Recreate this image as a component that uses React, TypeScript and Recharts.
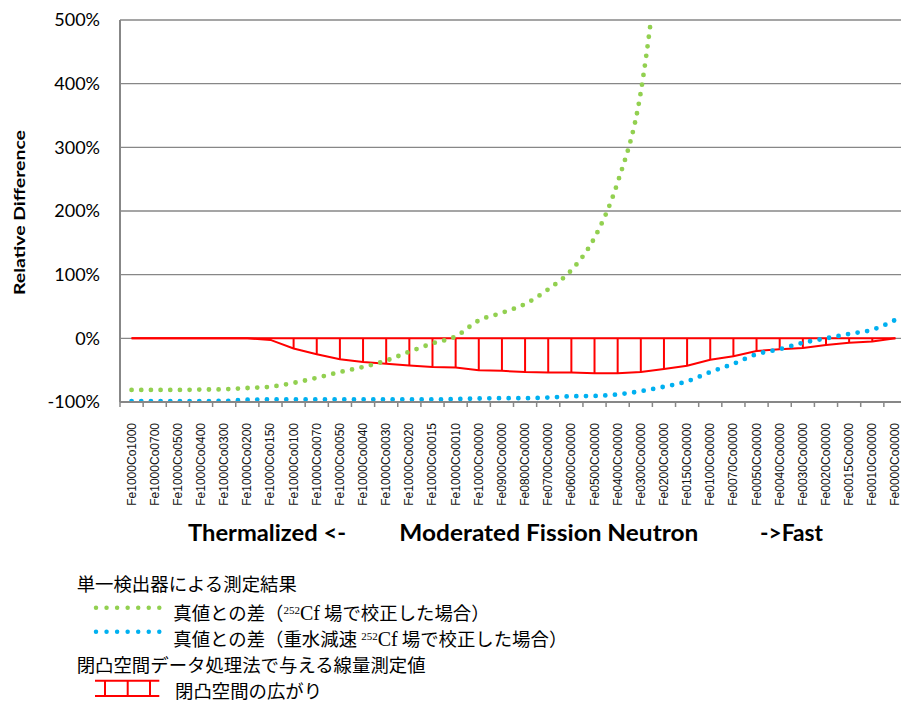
import React from 'react';
import { LineChart, Line, XAxis, YAxis, CartesianGrid, ErrorBar, Label } from 'recharts';

const categories = [
  'Fe1000Co1000', 'Fe1000Co0700', 'Fe1000Co0500', 'Fe1000Co0400', 'Fe1000Co0300',
  'Fe1000Co0200', 'Fe1000Co0150', 'Fe1000Co0100', 'Fe1000Co0070', 'Fe1000Co0050',
  'Fe1000Co0040', 'Fe1000Co0030', 'Fe1000Co0020', 'Fe1000Co0015', 'Fe1000Co0010',
  'Fe1000Co0000', 'Fe0900Co0000', 'Fe0800Co0000', 'Fe0700Co0000', 'Fe0600Co0000',
  'Fe0500Co0000', 'Fe0400Co0000', 'Fe0300Co0000', 'Fe0200Co0000', 'Fe0150Co0000',
  'Fe0100Co0000', 'Fe0070Co0000', 'Fe0050Co0000', 'Fe0040Co0000', 'Fe0030Co0000',
  'Fe0020Co0000', 'Fe0015Co0000', 'Fe0010Co0000', 'Fe0000Co0000',
];

// 真値との差（252Cf 場で校正した場合）  [%]
const greenCf = [
  -81, -81, -81, -80.5, -80, -78, -76, -70, -62, -53,
  -45, -35, -21, -8, 3, 28, 40, 54, 77, 107,
  158, 245, 387, 690, 1150, null, null, null, null, null,
  null, null, null, null,
];

// 真値との差（重水減速 252Cf 場で校正した場合）  [%]
const blueD2O = [
  -98.5, -98.5, -98.5, -98.5, -98.3, -96.5, -96, -96, -96, -96,
  -96, -96, -96, -96, -95.5, -94.5, -94, -94, -93, -91,
  -90.5, -88, -83, -76, -67.5, -53, -40, -25, -17, -7,
  0, 7, 13.5, 29,
];

// 閉凸空間の広がり (upper / lower)  [%]
const convexUpper = [
  0, 0, 0, 0, 0, 0, 0, 0, 0, 0,
  0, 0, 0, 0, 0, 0, 0, 0, 0, 0,
  0, 0, 0, 0, 0, 0, 0, 0, 0, 0,
  0, 0, 0, 0,
];
const convexLower = [
  0, 0, 0, 0, 0, 0, -2.5, -16, -25, -33,
  -37, -40, -42.5, -45, -46, -50, -51, -53, -53.5, -53.5,
  -55, -55, -53, -48, -43, -33.5, -28, -20, -17, -15,
  -10.5, -7, -5, 0,
];

const yTicks = [-100, 0, 100, 200, 300, 400, 500];

const data = categories.map((name, i) => ({
  i,
  name,
  green: greenCf[i],
  blue: blueD2O[i],
  upper: convexUpper[i],
  lower: convexLower[i],
  err: [0, convexUpper[i] - convexLower[i]],
}));

const catTicks = categories.map((_, i) => i);
const boundaryTicks = categories.map((_, i) => i - 0.5).concat([categories.length - 0.5]);
const xDomain = [-0.5, categories.length - 0.5];

const GRAY = '#878787';
const GREEN = '#92d050';
const BLUE = '#00b0f0';
const RED = '#ff0000';

const EmptyTick = () => <g />;

const CatTick = (props: any) => {
  const { x, y, payload } = props;
  return (
    <text
      transform={`translate(${x},${y + 20}) rotate(-90)`}
      textAnchor="end"
      dominantBaseline="central"
      fontFamily="'Liberation Sans', Arial, sans-serif"
      fontSize={12}
      fill="#111"
    >
      {categories[payload.value]}
    </text>
  );
};

const XTitle = (props: any) => {
  const vb = props.viewBox || { x: 120, y: 403 };
  const y = vb.y + 138;
  return (
    <g fontFamily="Lato, sans-serif" fontWeight={700} fontSize={22} fill="#000">
      <text x={vb.x + 68} y={y} textLength={158} lengthAdjust="spacingAndGlyphs">Thermalized &lt;-</text>
      <text x={vb.x + 279.3} y={y} textLength={299} lengthAdjust="spacingAndGlyphs">Moderated Fission Neutron</text>
      <text x={vb.x + 640} y={y} textLength={63} lengthAdjust="spacingAndGlyphs">-&gt;Fast</text>
    </g>
  );
};

const YTitle = (props: any) => {
  const vb = props.viewBox || { x: 0, y: 20, width: 120, height: 382 };
  const cx = vb.x + 18.5;
  const cy = vb.y + vb.height / 2 + 1.5;
  return (
    <text
      x={cx}
      y={cy}
      transform={`rotate(-90, ${cx}, ${cy})`}
      textAnchor="middle"
      dominantBaseline="central"
      fontFamily="Lato, sans-serif"
      fontWeight={700}
      fontSize={16}
      fill="#000"
      textLength={165}
      lengthAdjust="spacingAndGlyphs"
    >
      Relative Difference
    </text>
  );
};

const Sup = ({ children }: any) => (
  <span style={{ fontFamily: "'Liberation Serif', serif", fontSize: 11, position: 'relative', top: -6 }}>{children}</span>
);
const Cf = () => (
  <span style={{ fontFamily: "'Liberation Serif', serif", fontSize: 20 }}>Cf</span>
);

const lineStyle: React.CSSProperties = {
  position: 'absolute',
  lineHeight: '18.4px',
  height: 18.4,
  whiteSpace: 'nowrap',
};

const LegendBlock = () => (
  <div
    style={{
      position: 'absolute',
      left: 0,
      top: 0,
      width: 901,
      height: 702,
      pointerEvents: 'none',
      fontFamily: "'Noto Sans CJK JP', sans-serif",
      fontSize: 18.4,
      color: '#000',
    }}
  >
    <div style={{ ...lineStyle, left: 76.7, top: 574 }}>単一検出器による測定結果</div>
    <div style={{ ...lineStyle, left: 173.3, top: 603 }}>
      真値との差（<Sup>252</Sup><Cf /> 場で校正した場合）
    </div>
    <div style={{ ...lineStyle, left: 173.3, top: 628.8 }}>
      真値との差（重水減速 <Sup>252</Sup><Cf /> 場で校正した場合）
    </div>
    <div style={{ ...lineStyle, left: 76.7, top: 655.3 }}>閉凸空間データ処理法で与える線量測定値</div>
    <div style={{ ...lineStyle, left: 175, top: 680.8 }}>閉凸空間の広がり</div>
    <svg style={{ position: 'absolute', left: 0, top: 560 }} width={200} height={142}>
      <line x1={96} y1={47.7} x2={159.5} y2={47.7} stroke={GREEN} strokeWidth={4.5} strokeLinecap="round" strokeDasharray="0 10.55" />
      <line x1={96} y1={71.7} x2={159.5} y2={71.7} stroke={BLUE} strokeWidth={4.5} strokeLinecap="round" strokeDasharray="0 10.55" />
      <g stroke={RED} strokeWidth={2} fill="none">
        <line x1={95} y1={120.7} x2={159.3} y2={120.7} />
        <line x1={95} y1={136} x2={159.3} y2={136} />
        <line x1={105} y1={120.7} x2={105} y2={136} />
        <line x1={127.7} y1={120.7} x2={127.7} y2={136} />
        <line x1={150} y1={120.7} x2={150} y2={136} />
      </g>
    </svg>
  </div>
);

export default function App() {
  return (
    <div
      style={{
        position: 'fixed',
        left: 0,
        top: 0,
        width: 901,
        height: 702,
        overflow: 'hidden',
        background: '#fff',
      }}
    >
      <LineChart width={907} height={702} data={data} margin={{ top: 20, right: 0, bottom: 0, left: 0 }}>
        <CartesianGrid vertical={false} stroke={GRAY} strokeWidth={1.3} xAxisId="main" />
        <XAxis
          xAxisId="bticks"
          type="number"
          dataKey="i"
          domain={xDomain}
          allowDataOverflow
          ticks={boundaryTicks}
          interval={0}
          height={1}
          tick={EmptyTick}
          tickLine={{ stroke: GRAY, strokeWidth: 1.5 }}
          tickSize={5}
          axisLine={{ stroke: GRAY, strokeWidth: 2 }}
        />
        <XAxis
          xAxisId="main"
          type="number"
          dataKey="i"
          domain={xDomain}
          allowDataOverflow
          ticks={catTicks}
          interval={0}
          height={299}
          tick={CatTick}
          tickLine={false}
          tickSize={0}
          tickMargin={0}
          axisLine={false}
        >
          <Label content={XTitle} />
        </XAxis>
        <YAxis
          type="number"
          domain={[-100, 500]}
          allowDataOverflow
          ticks={yTicks}
          interval={0}
          width={120}
          tickFormatter={(v: number) => `${v}%`}
          tick={{ fontFamily: 'Lato, sans-serif', fontSize: 18, fill: '#000' }}
          tickLine={false}
          tickSize={0}
          tickMargin={20}
          axisLine={{ stroke: GRAY, strokeWidth: 2 }}
        >
          <Label content={YTitle} />
        </YAxis>
        <Line
          xAxisId="main"
          type="linear"
          dataKey="upper"
          stroke={RED}
          strokeWidth={2}
          dot={false}
          activeDot={false}
          isAnimationActive={false}
        />
        <Line
          xAxisId="main"
          type="linear"
          dataKey="lower"
          stroke={RED}
          strokeWidth={2}
          dot={false}
          activeDot={false}
          isAnimationActive={false}
        >
          <ErrorBar dataKey="err" direction="y" width={0} stroke={RED} strokeWidth={2} isAnimationActive={false} />
        </Line>
        <Line
          xAxisId="main"
          type="monotone"
          dataKey="green"
          stroke={GREEN}
          strokeWidth={4.8}
          strokeLinecap="round"
          strokeDasharray="0 9.67"
          dot={false}
          activeDot={false}
          isAnimationActive={false}
        />
        <Line
          xAxisId="main"
          type="monotone"
          dataKey="blue"
          stroke={BLUE}
          strokeWidth={4.8}
          strokeLinecap="round"
          strokeDasharray="0 9.67"
          dot={false}
          activeDot={false}
          isAnimationActive={false}
        />
      </LineChart>
      <LegendBlock />
    </div>
  );
}
